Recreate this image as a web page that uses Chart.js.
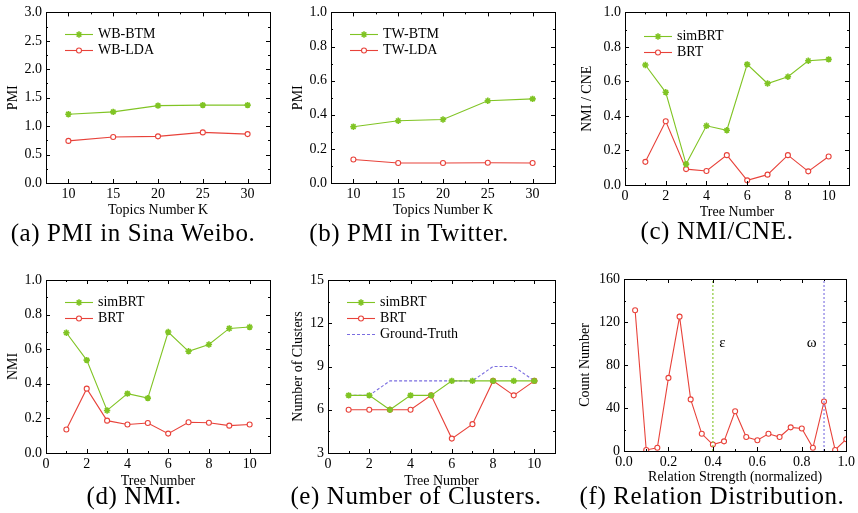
<!DOCTYPE html>
<html>
<head>
<meta charset="utf-8">
<script src="https://cdn.jsdelivr.net/npm/chart.js@4.4.0/dist/chart.umd.min.js"></script>
<style>
body { margin: 0; background: #fff; width: 858px; height: 513px; position: relative; overflow: hidden; }
canvas { position: absolute; }
.cap { position: absolute; width: 340px; text-align: center; font-family: "Liberation Serif", serif;
       font-size: 25px; line-height: 28px; color: #000; white-space: nowrap; letter-spacing: 0.6px; }
</style>
</head>
<body>
<script>
'use strict';

// data
const kTopics = [10, 15, 20, 25, 30];
const wbBtm = [1.21, 1.25, 1.36, 1.37, 1.37];
const wbLda = [0.74, 0.81, 0.82, 0.89, 0.86];
const twBtm = [0.33, 0.365, 0.372, 0.482, 0.493];
const twLda = [0.138, 0.117, 0.117, 0.119, 0.117];

const trees = [1, 2, 3, 4, 5, 6, 7, 8, 9, 10];
const cneSim = [0.695, 0.537, 0.121, 0.343, 0.317, 0.699, 0.588, 0.627, 0.720, 0.728];
const cneBrt = [0.134, 0.369, 0.092, 0.081, 0.173, 0.027, 0.060, 0.173, 0.079, 0.165];
const nmiSim = [0.695, 0.537, 0.246, 0.343, 0.317, 0.699, 0.588, 0.627, 0.720, 0.728];
const nmiBrt = [0.136, 0.372, 0.187, 0.165, 0.173, 0.112, 0.178, 0.175, 0.158, 0.165];
const clSim = [7, 7, 6, 7, 7, 8, 8, 8, 8, 8];
const clBrt = [6, 6, 6, 6, 7, 4, 5, 8, 7, 8];
const clTruth = [7, 7, 8, 8, 8, 8, 8, 9, 9, 8];

const strength = [0.05, 0.10, 0.15, 0.20, 0.25, 0.30, 0.35, 0.40, 0.45, 0.50,
                  0.55, 0.60, 0.65, 0.70, 0.75, 0.80, 0.85, 0.90, 0.95, 1.00];
const counts = [131, 1, 3, 68, 125, 48, 16, 6, 9, 37, 13, 10, 16, 13, 22, 21, 3, 46, 1, 11];
const epsilon = 0.4;
const omega = 0.9;

// tick labels
const kTicks = [10, 15, 20, 25, 30];
const treeTicks = [0, 2, 4, 6, 8, 10];
const pmiWbTicks = [0, 0.5, 1.0, 1.5, 2.0, 2.5, 3.0];
const unitTicks = [0, 0.2, 0.4, 0.6, 0.8, 1.0];
const clusterTicks = [3, 6, 9, 12, 15];
const countTicks = [0, 40, 80, 120, 160];

const GREEN = '#80c424';
const RED = '#e8423a';
const PURPLE = '#7a6de0';
const FONT = 'Liberation Serif';

function pts(xs, ys) {
  return xs.map((x, i) => ({ x: x, y: ys[i] }));
}

function simLine(label, xs, ys) {
  return { label: label, data: pts(xs, ys), borderColor: GREEN, backgroundColor: GREEN,
    borderWidth: 1.1, pointStyle: 'star', pointRadius: 3.2, pointBorderWidth: 1.6,
    pointBorderColor: GREEN, pointBackgroundColor: GREEN };
}
function brtLine(label, xs, ys) {
  return { label: label, data: pts(xs, ys), borderColor: RED, backgroundColor: '#fff',
    borderWidth: 1.1, pointStyle: 'circle', pointRadius: 2.5, pointBorderWidth: 1.1,
    pointBorderColor: RED, pointBackgroundColor: '#fff' };
}

// box, inward ticks, inner legend, notes
const boxTicks = {
  id: 'boxTicks',
  afterDatasetsDraw(chart, args, opts) {
    const ctx = chart.ctx;
    const a = chart.chartArea;
    const xs = chart.scales.x, ys = chart.scales.y;
    ctx.save();
    ctx.strokeStyle = '#000';
    ctx.lineWidth = 1;
    ctx.strokeRect(Math.round(a.left) + 0.5, Math.round(a.top) + 0.5,
      Math.round(a.right - a.left), Math.round(a.bottom - a.top));
    const drawX = (v, len) => {
      const p = Math.round(xs.getPixelForValue(v)) + 0.5;
      ctx.beginPath();
      ctx.moveTo(p, a.bottom); ctx.lineTo(p, a.bottom - len);
      ctx.moveTo(p, a.top); ctx.lineTo(p, a.top + len);
      ctx.stroke();
    };
    const drawY = (v, len) => {
      const p = Math.round(ys.getPixelForValue(v)) + 0.5;
      ctx.beginPath();
      ctx.moveTo(a.left, p); ctx.lineTo(a.left + len, p);
      ctx.moveTo(a.right, p); ctx.lineTo(a.right - len, p);
      ctx.stroke();
    };
    for (let v = xs.min; v <= xs.max + 1e-9; v += opts.xMinor) drawX(v, 2);
    for (let v = ys.min; v <= ys.max + 1e-9; v += opts.yMinor) drawY(v, 2);
    xs.ticks.forEach(t => drawX(t.value, 4));
    ys.ticks.forEach(t => drawY(t.value, 4));

    // legend inside the plot
    const lx = a.left + opts.legendX, ly = a.top + opts.legendY;
    ctx.font = '14px "' + FONT + '"';
    ctx.textBaseline = 'middle';
    ctx.fillStyle = '#000';
    let row = 0;
    chart.data.datasets.forEach(ds => {
      if (!ds.label) return;
      const y = Math.round(ly + row * 16) + 0.5;
      ctx.save();
      ctx.strokeStyle = ds.borderColor;
      ctx.lineWidth = ds.borderWidth;
      ctx.setLineDash(ds.borderDash || []);
      ctx.beginPath();
      ctx.moveTo(lx, y); ctx.lineTo(lx + 28, y);
      ctx.stroke();
      ctx.restore();
      if (ds.pointRadius > 0) {
        ctx.save();
        ctx.strokeStyle = ds.pointBorderColor;
        ctx.fillStyle = ds.pointBackgroundColor;
        ctx.lineWidth = ds.pointBorderWidth;
        Chart.helpers.drawPoint(ctx, { pointStyle: ds.pointStyle, radius: ds.pointRadius,
          borderWidth: ds.pointBorderWidth, rotation: 0 }, lx + 14, y);
        ctx.restore();
      }
      ctx.fillStyle = '#000';
      ctx.fillText(ds.label, lx + 33, y);
      row++;
    });

    (opts.notes || []).forEach(n => {
      ctx.font = '15px "' + FONT + '"';
      ctx.textAlign = 'center';
      ctx.fillText(n.text, xs.getPixelForValue(n.x), ys.getPixelForValue(n.y));
    });
    ctx.restore();
  }
};

function axisX(min, max, ticks, fmt, title, height) {
  return {
    type: 'linear', position: 'bottom', min: min, max: max,
    afterBuildTicks: s => { s.ticks = ticks.map(v => ({ value: v })); },
    afterFit: s => { s.height = height; },
    ticks: { callback: v => fmt(v), font: { family: FONT, size: 14 }, color: '#000',
      padding: 3, maxRotation: 0, autoSkip: false },
    grid: { display: false, drawTicks: false },
    border: { display: false },
    title: { display: true, text: title, color: '#000', font: { family: FONT, size: 14 },
      padding: { top: 0, bottom: 3 } }
  };
}

function axisY(min, max, ticks, fmt, title, width, titlePad) {
  return {
    type: 'linear', min: min, max: max,
    afterBuildTicks: s => { s.ticks = ticks.map(v => ({ value: v })); },
    afterFit: s => { s.width = width; },
    ticks: { callback: v => fmt(v), font: { family: FONT, size: 14 }, color: '#000',
      padding: 4, autoSkip: false },
    grid: { display: false, drawTicks: false },
    border: { display: false },
    title: { display: true, text: title, color: '#000', font: { family: FONT, size: 14 },
      padding: { top: titlePad, bottom: 0 } }
  };
}

function panel(box, area, datasets, xAxis, yAxis, extra) {
  const cv = document.createElement('canvas');
  cv.width = box.w; cv.height = box.h;
  cv.style.left = box.left + 'px'; cv.style.top = box.top + 'px';
  cv.style.width = box.w + 'px'; cv.style.height = box.h + 'px';
  document.body.appendChild(cv);
  const yAx = axisY(yAxis.min, yAxis.max, yAxis.ticks, yAxis.fmt, yAxis.title, area.l - box.left, yAxis.titlePad);
  const xAx = axisX(xAxis.min, xAxis.max, xAxis.ticks, xAxis.fmt, xAxis.title, box.top + box.h - area.b);
  new Chart(cv.getContext('2d'), {
    type: 'line',
    data: { datasets: datasets },
    options: {
      responsive: false, animation: false, devicePixelRatio: 1,
      layout: { padding: { left: 0, top: area.t - box.top, right: box.left + box.w - area.r, bottom: 0 } },
      scales: { x: xAx, y: yAx },
      plugins: {
        legend: { display: false }, tooltip: { enabled: false },
        boxTicks: Object.assign({ xMinor: xAxis.minor, yMinor: yAxis.minor, legendX: 19, legendY: 22 }, extra || {})
      }
    },
    plugins: [boxTicks]
  });
}

function caption(text, cx, cy) {
  const d = document.createElement('div');
  d.className = 'cap';
  d.textContent = text;
  d.style.left = (cx - 170) + 'px';
  d.style.top = (cy - 14) + 'px';
  document.body.appendChild(d);
}

const f1 = v => v.toFixed(1);
const f0 = v => String(v);

// (a)
panel({ left: 0, top: 0, w: 285, h: 222 }, { l: 46, t: 12, r: 270, b: 183 },
  [simLine('WB-BTM', kTopics, wbBtm), brtLine('WB-LDA', kTopics, wbLda)],
  { min: 7.5, max: 32.5, ticks: kTicks, minor: 2.5, fmt: f0, title: 'Topics Number K' },
  { min: 0, max: 3, ticks: pmiWbTicks, minor: 0.25, fmt: f1, title: 'PMI', titlePad: 5 });

// (b)
panel({ left: 285, top: 0, w: 285, h: 222 }, { l: 331, t: 12, r: 555, b: 183 },
  [simLine('TW-BTM', kTopics, twBtm), brtLine('TW-LDA', kTopics, twLda)],
  { min: 7.5, max: 32.5, ticks: kTicks, minor: 2.5, fmt: f0, title: 'Topics Number K' },
  { min: 0, max: 1, ticks: unitTicks, minor: 0.1, fmt: f1, title: 'PMI', titlePad: 5 });

// (c)
panel({ left: 570, top: 0, w: 288, h: 224 }, { l: 625, t: 12, r: 849, b: 185 },
  [simLine('simBRT', trees, cneSim), brtLine('BRT', trees, cneBrt)],
  { min: 0, max: 11, ticks: treeTicks, minor: 1, fmt: f0, title: 'Tree Number' },
  { min: 0, max: 1, ticks: unitTicks, minor: 0.1, fmt: f1, title: 'NMI / CNE', titlePad: 9 },
  { legendY: 24 });

// (d)
panel({ left: 0, top: 262, w: 285, h: 231 }, { l: 46, t: 280, r: 270, b: 453 },
  [simLine('simBRT', trees, nmiSim), brtLine('BRT', trees, nmiBrt)],
  { min: 0, max: 11, ticks: treeTicks, minor: 1, fmt: f0, title: 'Tree Number' },
  { min: 0, max: 1, ticks: unitTicks, minor: 0.1, fmt: f1, title: 'NMI', titlePad: 5 });

// (e)
panel({ left: 285, top: 262, w: 285, h: 231 }, { l: 328, t: 280, r: 555, b: 453 },
  [simLine('simBRT', trees, clSim), brtLine('BRT', trees, clBrt),
   { label: 'Ground-Truth', data: pts(trees, clTruth), borderColor: PURPLE, borderWidth: 1.1,
     borderDash: [3, 2], pointRadius: 0 }],
  { min: 0, max: 11, ticks: treeTicks, minor: 1, fmt: f0, title: 'Tree Number' },
  { min: 3, max: 15, ticks: clusterTicks, minor: 1.5, fmt: f0, title: 'Number of Clusters', titlePad: 5 });

// (f)
panel({ left: 570, top: 262, w: 288, h: 227 }, { l: 624, t: 279, r: 847, b: 451 },
  [{ data: pts([epsilon, epsilon], [0, 160]), borderColor: GREEN, borderWidth: 1.1, borderDash: [2, 2], pointRadius: 0 },
   { data: pts([omega, omega], [0, 160]), borderColor: PURPLE, borderWidth: 1.1, borderDash: [2, 2], pointRadius: 0 },
   Object.assign(brtLine('', strength, counts), { label: undefined })],
  { min: 0, max: 1, ticks: unitTicks, minor: 0.1, fmt: f1, title: 'Relation Strength (normalized)' },
  { min: 0, max: 160, ticks: countTicks, minor: 20, fmt: f0, title: 'Count Number', titlePad: 7 },
  { notes: [{ x: 0.443, y: 100, text: 'ε' }, { x: 0.845, y: 100, text: 'ω' }] });

caption('(a) PMI in Sina Weibo.', 133, 233);
caption('(b) PMI in Twitter.', 409, 233);
caption('(c) NMI/CNE.', 717, 231);
caption('(d) NMI.', 134, 496);
caption('(e) Number of Clusters.', 416, 496);
caption('(f) Relation Distribution.', 712, 496);
</script>
</body>
</html>
